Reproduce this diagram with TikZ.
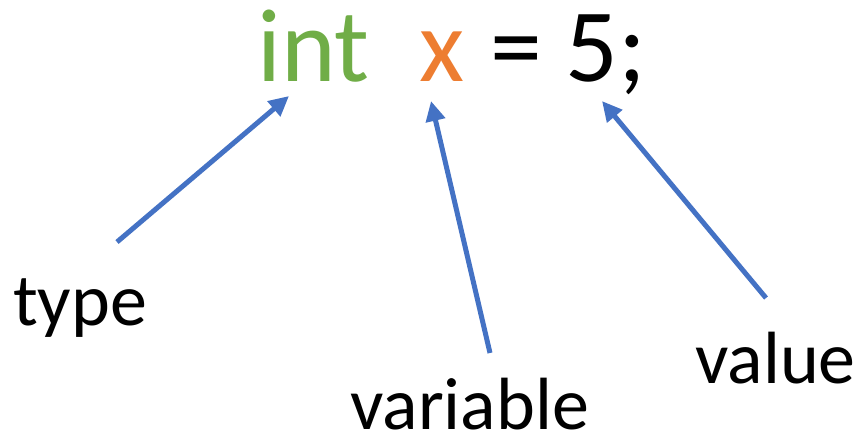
\documentclass[tikz,border=0pt]{standalone}
\usepackage{fontspec}
\setmainfont{Carlito}
\usetikzlibrary{arrows.meta}
\definecolor{cgreen}{HTML}{70AD47}
\definecolor{corange}{HTML}{ED7D31}
\definecolor{cblue}{HTML}{4472C4}
\begin{document}
\begin{tikzpicture}[x=1pt,y=-1pt,
  code/.style={anchor=base west,inner sep=0pt,font=\fontsize{104}{110}\selectfont},
  lbl/.style={anchor=base west,inner sep=0pt,font=\fontsize{74}{80}\selectfont},
  pointer/.style={draw=cblue,line width=5pt,-{Triangle[length=20pt,width=19pt]}}]
\useasboundingbox (0,0) rectangle (864,434);
\node[code,text=cgreen] (int) at (257,81) {int};
\node[code,text=corange] (x) at (419,81) {x};
\node[code] (rest) at (490,81) {= 5;};
\node[lbl] (type) at (13,325) {type};
\node[lbl] (variable) at (350,429) {variable};
\node[lbl] (value) at (695,383) {value};
\coordinate (t1) at (117,242);
\coordinate (h1) at (289,96);
\coordinate (t2) at (490,353);
\coordinate (h2) at (431,101);
\coordinate (t3) at (766,298);
\coordinate (h3) at (602,101);
\draw[pointer] (t1) -- (h1);
\draw[pointer] (t2) -- (h2);
\draw[pointer] (t3) -- (h3);
\end{tikzpicture}
\end{document}
